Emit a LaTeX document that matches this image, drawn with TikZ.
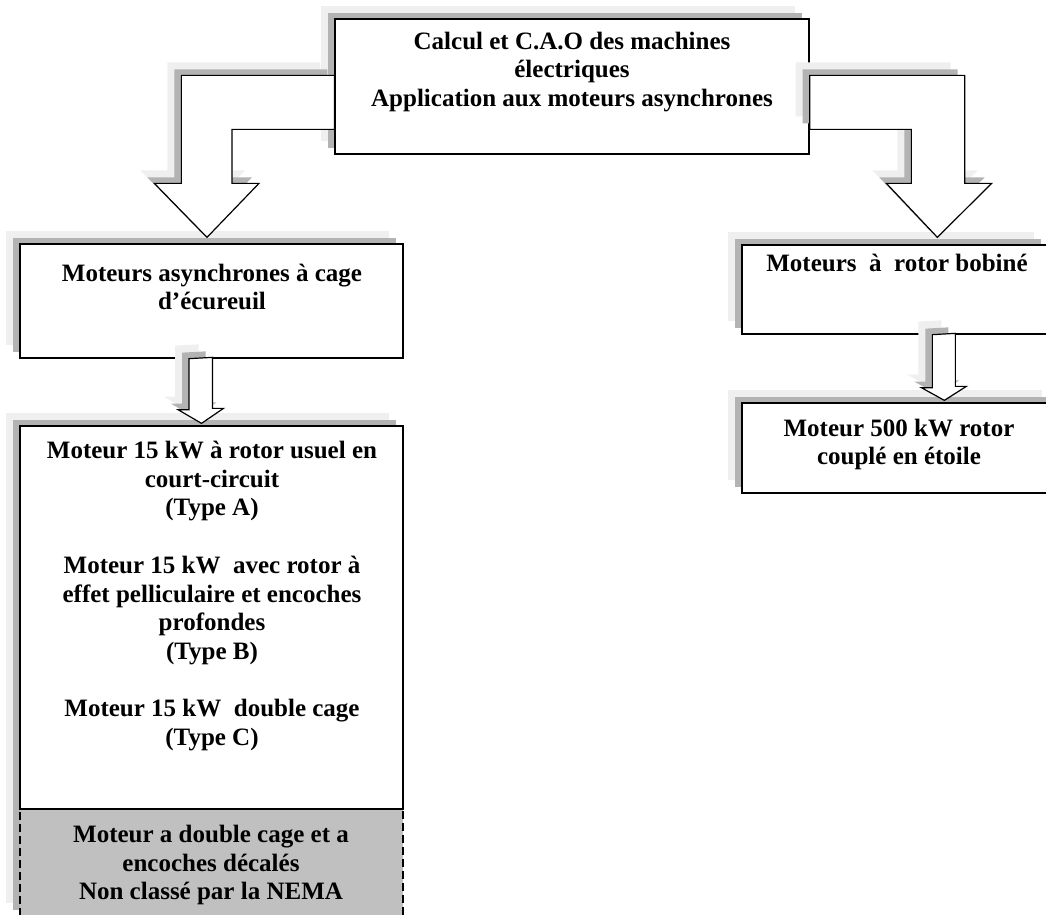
\documentclass[tikz,border=0pt]{standalone}
\usepackage{fontspec}
\setmainfont{Liberation Serif}
\usetikzlibrary{calc}
\definecolor{shadedark}{HTML}{B3B3B3}
\definecolor{shadelight}{HTML}{EFEFEF}
\definecolor{nemagray}{HTML}{C0C0C0}

\begin{document}
\begin{tikzpicture}[x=1pt,y=-1pt,
  twoshadow/.style={preaction={draw=none,fill=shadelight,transform canvas={shift={(-14pt,13pt)}}},
                    preaction={draw=none,fill=shadedark,transform canvas={shift={(-7pt,6pt)}}}},
  box/.style={draw,line width=1.3pt,fill=white,inner sep=0pt,twoshadow},
  blockarrow/.style={draw,line width=1.2pt,fill=white,line join=miter,twoshadow},
  txt/.style={align=center,inner sep=0pt,font=\bfseries\fontsize{25}{28.7}\selectfont}]
  \clip (0,0) rectangle (1046,914);

  \node[box,minimum width=474pt,minimum height=135pt] (top) at (572,86.5) {};
  \node[box,minimum width=383pt,minimum height=114pt] (cage) at (211.5,301) {};
  \node[box,minimum width=306pt,minimum height=89pt] (bobine) at (895,289.5) {};
  \node[box,dashed,dash pattern=on 8pt off 4pt,fill=nemagray,minimum width=383pt,minimum height=107pt] (nema) at (211.5,862.5) {};
  \node[box,minimum width=383pt,minimum height=383pt] (types) at (211.5,617.5) {};
  \node[box,minimum width=314pt,minimum height=90pt] (etoile) at (899,448) {};

  \filldraw[blockarrow] ($(top.north west)+(0,57)$) -- ++(-153,0) -- ++(0,108) -- ++(-27,0)
    -- ($(cage.north)+(-4.5,-6)$) -- ++(52,-54) -- ++(-27,0) -- ++(0,-54)
    -- ($(top.north west)+(0,111)$) -- cycle;
  \filldraw[blockarrow] ($(top.north east)+(0,57)$) -- ++(155,0) -- ++(0,108) -- ++(27,0)
    -- ($(bobine.north west)+(196,-7)$) -- ++(-51,-54) -- ++(25,0) -- ++(0,-54)
    -- ($(top.north east)+(0,111)$) -- cycle;
  \filldraw[blockarrow] ($(cage.south)+(-22.5,0)$) -- ++(0,51) -- ++(-11,0)
    -- ($(types.north)+(-10,-2)$) -- ++(22,-15) -- ++(-11,0) -- ++(0,-51) -- cycle;
  \filldraw[blockarrow] ($(bobine.south west)+(191,0)$) -- ++(0,53) -- ++(-11,0)
    -- ($(etoile.north west)+(203,-2)$) -- ++(22,-14) -- ++(-11,0) -- ++(0,-53) -- cycle;

  \node[txt] (top-t) at (572,72) {Calcul et C.A.O des machines\\électriques\\Application aux moteurs asynchrones};
  \node[txt] (cage-t) at (212,287) {Moteurs asynchrones à cage\\d’écureuil};
  \node[txt] (bobine-t) at (897,263) {Moteurs\ \ à\ \ rotor bobiné};
  \node[txt] (types-t) at (212,596) {Moteur 15 kW à rotor usuel en\\court-circuit\\(Type A)\\[28.7pt]
    Moteur 15 kW\ \ avec rotor à\\effet pelliculaire et encoches\\profondes\\(Type B)\\[28.7pt]
    Moteur 15 kW\ \ double cage\\(Type C)};
  \node[txt] (nema-t) at (211,865) {Moteur a double cage et a\\encoches décalés\\Non classé par la NEMA};
  \node[txt] (etoile-t) at (899,444.5) {Moteur 500 kW rotor\\couplé en étoile};
\end{tikzpicture}
\end{document}
